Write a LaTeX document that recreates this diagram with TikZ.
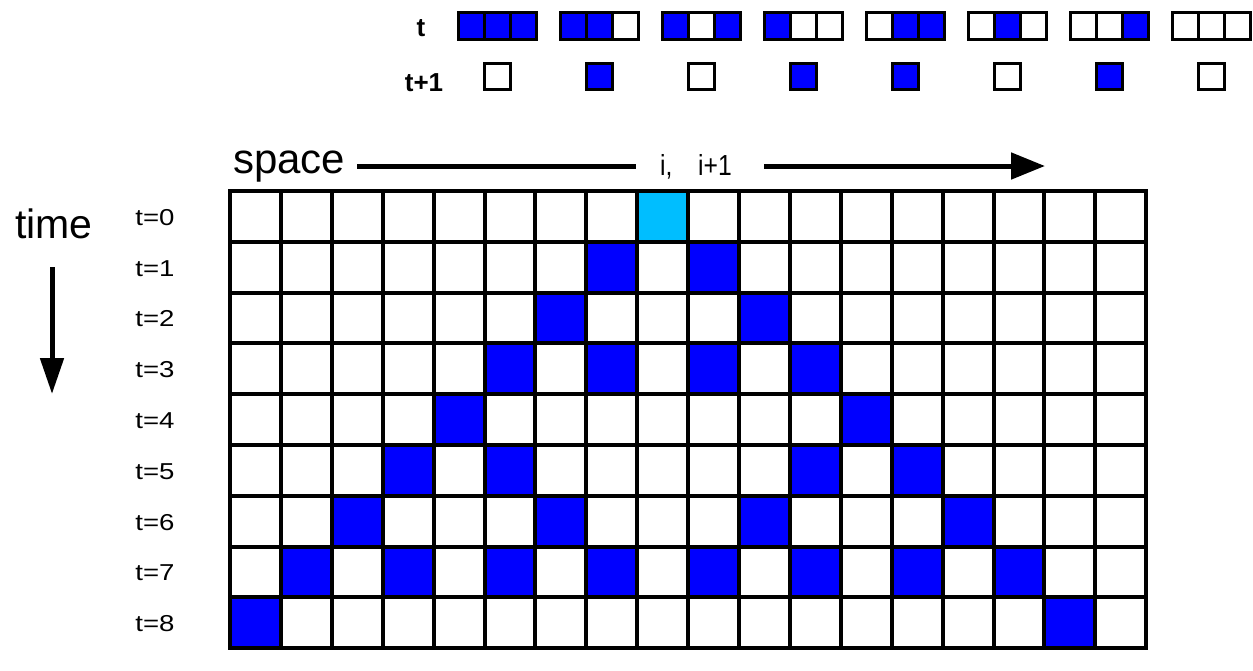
\documentclass[tikz,border=0pt]{standalone}
\usepackage{fontspec}
\setmainfont{Liberation Sans}
\newfontfamily\widefont[FakeStretch=1.2]{Liberation Sans}
\newfontfamily\narrowfont[FakeStretch=0.85]{Liberation Sans}
\usetikzlibrary{arrows.meta}
\definecolor{cablue}{RGB}{0,0,255}
\definecolor{cacyan}{RGB}{0,190,255}
\colorlet{c1}{cablue}
\colorlet{c0}{white}
\newcommand\fsz[1]{\fontsize{#1}{#1}\selectfont}
\begin{document}
\begin{tikzpicture}[x=1pt,y=-1pt,
  gridline/.style={line width=4pt, line cap=rect},
  rulecell/.style={draw, line width=3pt, minimum width=26pt, minimum height=27pt, inner sep=0pt, outer sep=0pt},
  outcell/.style={draw, line width=3pt, minimum width=26pt, minimum height=26pt, inner sep=0pt, outer sep=0pt},
  rowlab/.style={font=\widefont\fsz{23}, inner sep=0pt},
  toplab/.style={font=\bfseries\fsz{26}, inner sep=0pt},
  idxlab/.style={anchor=base west, inner sep=0pt, font=\narrowfont\fsz{29}},
  axisline/.style={line width=5pt},
  axisarrow/.style={line width=5pt, -{Triangle[length=34pt, width=26pt]}},
  timearrow/.style={line width=5pt, -{Triangle[length=36pt, width=23pt]}}]
\useasboundingbox[fill=white] (0,0) rectangle (1253,670);

% rule table
\node[toplab] (tlabel) at (421,28.5) {t};
\node[toplab] (t1label) at (424,83) {t+1};
\foreach \k/\a/\b/\c/\o in {0/1/1/1/0, 1/1/1/0/1, 2/1/0/1/0, 3/1/0/0/1, 4/0/1/1/1, 5/0/1/0/0, 6/0/0/1/1, 7/0/0/0/0} {
  \node[rulecell, fill=c\a] (r\k a) at ({471+102*\k},25.5) {};
  \node[rulecell, fill=c\b] (r\k b) at ({497+102*\k},25.5) {};
  \node[rulecell, fill=c\c] (r\k c) at ({523+102*\k},25.5) {};
  \node[outcell, fill=c\o] (o\k) at ({497+102*\k},76) {};
}

% axis labels
\node[anchor=base west, inner sep=0pt, font=\fsz{42}] (space) at (233,173) {space};
\node[anchor=base west, inner sep=0pt, font=\fsz{41}] (time) at (15,238) {time};
\node[idxlab] (ilab) at (660,175) {i,};
\node[idxlab] (ip1lab) at (698,175) {i+1};
\coordinate (sa) at (357,166);
\coordinate (sb) at (636,166);
\coordinate (sc) at (764,166);
\coordinate (sd) at (1045,166);
\draw[axisline] (sa) -- (sb);
\draw[axisarrow] (sc) -- (sd);
\coordinate (ta) at (52,267);
\coordinate (tb) at (52,394);
\draw[timearrow] (ta) -- (tb);

% row labels
\foreach \r in {0,...,8}
  \node[rowlab] (row\r) at (155,{217.4+50.8*\r}) {t=\r};

% filled cells
\fill[cacyan] (230+8*50.9,191) rectangle ++(50.9,50.8);
\foreach \c/\r in {7/1,9/1, 6/2,10/2, 5/3,7/3,9/3,11/3, 4/4,12/4, 3/5,5/5,11/5,13/5,
                   2/6,6/6,10/6,14/6, 1/7,3/7,5/7,7/7,9/7,11/7,13/7,15/7, 0/8,16/8}
  \fill[cablue] ({230+50.9*\c},{191+50.8*\r}) rectangle ++(50.9,50.8);

% grid lines
\foreach \c in {0,...,18}
  \draw[gridline] ({230+50.9*\c},191) -- ({230+50.9*\c},648.2);
\foreach \r in {0,...,9}
  \draw[gridline] (230,{191+50.8*\r}) -- (1146.2,{191+50.8*\r});
\end{tikzpicture}
\end{document}
